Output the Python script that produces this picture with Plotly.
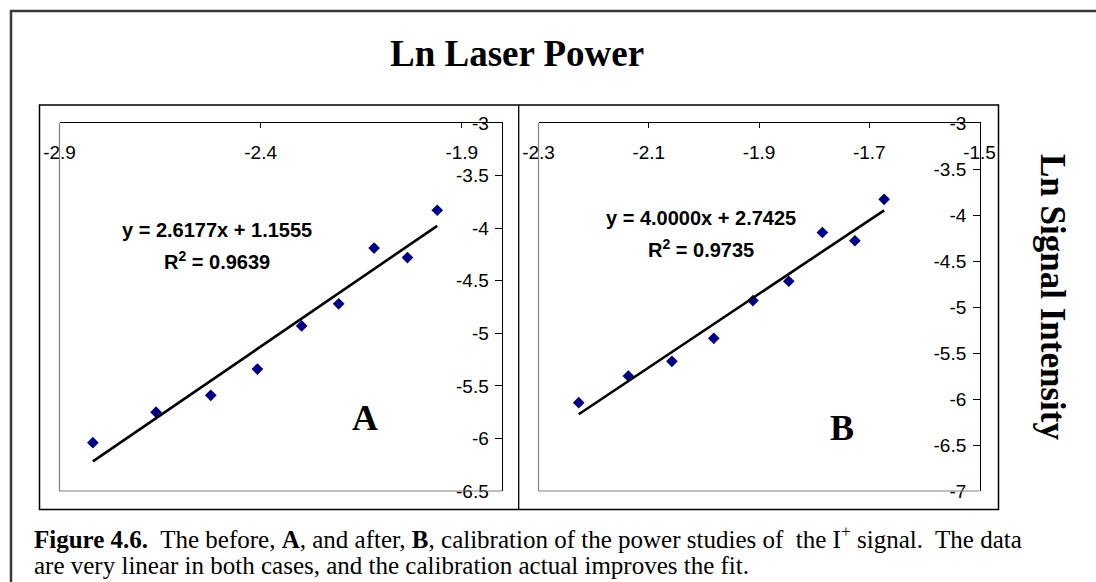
import plotly.graph_objects as go

# Ln laser power before (A) and after (B) calibration, and Ln signal intensity
ln_power_before = [-2.817, -2.660, -2.524, -2.408, -2.298, -2.206, -2.118, -2.035, -1.961]
ln_power_after = [-2.227, -2.137, -2.058, -1.982, -1.911, -1.846, -1.785, -1.726, -1.673]
ln_signal = [-6.04, -5.75, -5.59, -5.34, -4.93, -4.72, -4.19, -4.28, -3.83]

# Linear fits (slope, intercept, R^2)
fit_before = (2.6177, 1.1555, 0.9639)
fit_after = (4.0000, 2.7425, 0.9735)

# Axis ticks
x_ticks_before = [-2.9, -2.4, -1.9]
x_ticks_after = [-2.3, -2.1, -1.9, -1.7, -1.5]
y_ticks_before = [-3, -3.5, -4, -4.5, -5, -5.5, -6, -6.5]
y_ticks_after = [-3, -3.5, -4, -4.5, -5, -5.5, -6, -6.5, -7]

W, H = 1096, 582
NAVY = "#000080"
SANS = "Liberation Sans, Arial, sans-serif"
SERIF = "Liberation Serif, Times New Roman, serif"


def px(x):
    return x / W


def py(y):
    return 1 - y / H


fig = go.Figure()


def add_panel(xs, fit, xa, ya):
    m, b, _ = fit
    fig.add_trace(go.Scatter(
        x=xs, y=ln_signal, mode="markers", xaxis=xa, yaxis=ya,
        marker=dict(symbol="diamond", size=9, color=NAVY),
        showlegend=False, hoverinfo="skip", cliponaxis=False))
    x_line = [min(xs), max(xs)]
    fig.add_trace(go.Scatter(
        x=x_line, y=[m * v + b for v in x_line], mode="lines",
        xaxis=xa, yaxis=ya, line=dict(color="black", width=2.6),
        showlegend=False, hoverinfo="skip"))


add_panel(ln_power_before, fit_before, "x", "y")
add_panel(ln_power_after, fit_after, "x2", "y2")

y_dom = [py(491), py(123)]


def xaxis_cfg(rng, ticks, dom, anchor):
    return dict(
        domain=dom, range=rng, anchor=anchor, side="top", automargin=False,
        tickmode="array", tickvals=ticks, ticktext=[f"{t:g}" for t in ticks],
        ticks="inside", ticklen=5, tickcolor="black",
        ticklabelposition="inside", ticklabeloverflow="allow",
        ticklabelstandoff=19,
        showline=True, linecolor="black", linewidth=1, mirror=False,
        showgrid=False, zeroline=False,
        tickfont=dict(family=SANS, size=19, color="black"))


def yaxis_cfg(rng, ticks, anchor):
    return dict(
        domain=y_dom, range=rng, anchor=anchor, side="right", automargin=False,
        tickmode="array", tickvals=ticks, ticktext=[f"{t:g}" for t in ticks],
        ticks="inside", ticklen=7, tickcolor="black",
        ticklabelposition="inside", ticklabeloverflow="allow",
        ticklabelstandoff=7,
        showline=True, linecolor="black", linewidth=1,
        showgrid=False, zeroline=False,
        tickfont=dict(family=SANS, size=19, color="black"))


fig.update_layout(
    template="none",
    width=W, height=H, margin=dict(l=0, r=0, t=0, b=0, pad=0), autosize=False,
    paper_bgcolor="white", plot_bgcolor="white",
    xaxis=xaxis_cfg([-2.9, -1.8], x_ticks_before, [px(59.5), px(502)], "y"),
    yaxis=yaxis_cfg([-6.5, -3], y_ticks_before, "x"),
    xaxis2=xaxis_cfg([-2.3, -1.5], x_ticks_after, [px(538.5), px(979.5)], "y2"),
    yaxis2=yaxis_cfg([-7, -3], y_ticks_after, "x2"),
)

shapes = []
# outer frame
shapes.append(dict(type="rect", xref="paper", yref="paper",
                   x0=px(11), x1=px(1110), y0=py(595), y1=py(11),
                   line=dict(color="#3a3a3a", width=2.5)))
# chart area frame and divider
shapes.append(dict(type="rect", xref="paper", yref="paper",
                   x0=px(39.5), x1=px(998.5), y0=py(509.5), y1=py(105),
                   line=dict(color="black", width=1.5)))
shapes.append(dict(type="line", xref="paper", yref="paper",
                   x0=px(518.7), x1=px(518.7), y0=py(509.5), y1=py(105),
                   line=dict(color="black", width=1.3)))
# plot-area borders (left and bottom, grey)
for x0, x1 in [(59.5, 502), (538.5, 979.5)]:
    shapes.append(dict(type="line", xref="paper", yref="paper",
                       x0=px(x0), x1=px(x0), y0=py(491), y1=py(123),
                       line=dict(color="#808080", width=1.2)))
    shapes.append(dict(type="line", xref="paper", yref="paper",
                       x0=px(x0), x1=px(x1), y0=py(491), y1=py(491),
                       line=dict(color="#808080", width=1.2)))
fig.update_layout(shapes=shapes)


def eq_lines(fit):
    m, b, r2 = fit
    return (f"<b>y = {m:.4f}x + {b:.4f}</b>",
            f"<b>R<sup>2</sup> = {r2:.4f}</b>")


eq_a1, eq_a2 = eq_lines(fit_before)
eq_b1, eq_b2 = eq_lines(fit_after)
eq_font = dict(family=SANS, size=20, color="black")
cap_font = dict(family=SERIF, size=25, color="black")

annotations = [
    dict(text="<b>Ln Laser Power</b>", x=px(517), y=py(53),
         font=dict(family=SERIF, size=37, color="black")),
    dict(text="<b>Ln Signal Intensity</b>", x=px(1053), y=py(297),
         textangle=90, font=dict(family=SERIF, size=35, color="black")),
    dict(text=eq_a1, x=px(217), y=py(230), font=eq_font),
    dict(text=eq_a2, x=px(217), y=py(260), font=eq_font),
    dict(text=eq_b1, x=px(701), y=py(218), font=eq_font),
    dict(text=eq_b2, x=px(701), y=py(248), font=eq_font),
    dict(text="<b>A</b>", x=px(365), y=py(418),
         font=dict(family=SERIF, size=36, color="black")),
    dict(text="<b>B</b>", x=px(842), y=py(428),
         font=dict(family=SERIF, size=36, color="black")),
    dict(text=("<b>Figure 4.6.</b>&nbsp; The before, <b>A</b>, and after, <b>B</b>, "
               "calibration of the power studies of&nbsp; the I<sup>+</sup> signal.&nbsp; The data"),
         x=px(32), y=py(537), xanchor="left", font=cap_font),
    dict(text="are very linear in both cases, and the calibration actual improves the fit.",
         x=px(32), y=py(565), xanchor="left", font=cap_font),
]
for a in annotations:
    a.setdefault("xref", "paper")
    a.setdefault("yref", "paper")
    a.setdefault("xanchor", "center")
    a.setdefault("yanchor", "middle")
    a.setdefault("showarrow", False)
fig.update_layout(annotations=annotations)

fig.write_html("out.html")
